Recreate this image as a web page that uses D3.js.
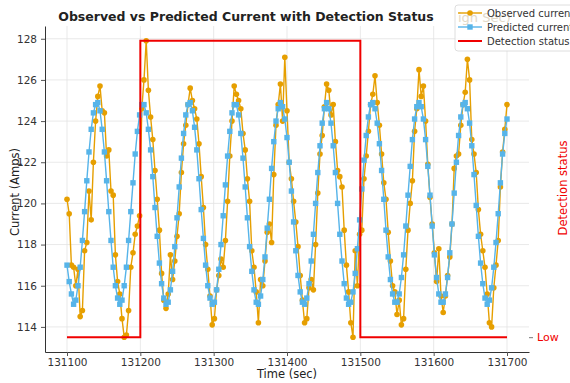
<!DOCTYPE html>
<html>
<head>
<meta charset="utf-8">
<script src="https://cdn.jsdelivr.net/npm/d3@7"></script>
<style>
  body { margin: 0; background: #fff; }
  svg { display: block; font-family: "DejaVu Sans", sans-serif; }
</style>
</head>
<body>
<div id="chart"></div>
<script>
// samples every 3 s from 131100 to 131700
var sampleTimes = d3.range(131100, 131701, 3)

var observed = [
  120.2, 119.5, 117.0, 116.9, 116.0, 116.8, 114.5, 114.8, 117.7, 118.1,
  120.6, 119.2, 122.0, 124.0, 125.2, 125.7, 124.5, 124.4, 122.3, 122.6,
  120.6, 120.4, 117.5, 116.2, 115.6, 114.4, 113.5, 113.6, 114.8, 116.9,
  117.6, 118.5, 118.9, 119.4, 124.6, 126.0, 127.9, 125.5, 124.2, 123.1,
  121.6, 120.2, 118.7, 116.6, 115.3, 114.9, 115.6, 117.5, 116.3, 117.2,
  118.4, 119.5, 121.5, 122.9, 123.8, 124.8, 125.6, 125.0, 124.6, 124.1,
  122.9, 121.3, 119.8, 118.0, 116.8, 115.5, 114.1, 114.4, 115.8, 116.5,
  117.3, 116.9, 118.2, 120.1, 122.3, 124.0, 125.7, 125.3, 125.0, 124.6,
  123.4, 122.6, 121.2, 120.1, 117.7, 116.9, 115.7, 114.2, 116.3, 116.0,
  117.2, 118.6, 119.0, 118.1, 121.4, 123.8, 124.8, 125.8, 124.0, 127.1,
  124.5, 122.0, 121.2, 120.1, 119.1, 117.9, 116.5, 115.3, 114.2, 114.4,
  115.9, 116.3, 115.8, 118.0, 120.5, 122.4, 123.3, 124.7, 125.8, 125.5,
  124.3, 124.8, 123.0, 121.6, 121.3, 120.8, 118.7, 117.0, 115.7, 114.2,
  113.5, 117.7, 116.0, 118.5, 118.7, 121.2, 122.3, 123.5, 124.8, 125.3,
  126.2, 124.9, 123.8, 122.4, 121.0, 120.2, 118.6, 117.2, 116.0, 115.7,
  114.6, 115.3, 114.1, 114.4, 116.8, 118.7, 120.0, 121.1, 123.5, 124.6,
  126.5, 125.2, 125.7, 124.0, 121.9, 120.3, 119.0, 117.6, 116.2, 117.8,
  115.5, 114.7, 115.5, 116.5, 117.4, 119.0, 121.7, 122.3, 122.4, 123.8,
  124.8, 125.4, 127.0, 126.0, 123.1, 122.4, 121.5, 119.7, 118.5, 117.7,
  116.9, 115.6, 114.2, 114.0, 115.9, 117.0, 118.2, 120.8, 122.5, 123.6,
  124.8
]

var predicted = [
  117.0, 116.2, 115.6, 115.1, 115.3, 116.0, 116.9, 118.2, 119.6, 121.1,
  122.5, 123.6, 124.4, 124.8, 124.9, 124.5, 123.6, 122.5, 121.1, 119.6,
  118.2, 116.9, 116.0, 115.4, 115.1, 115.3, 116.0, 116.9, 118.2, 119.6,
  121.0, 122.4, 123.5, 124.3, 124.8, 124.8, 124.4, 123.6, 122.6, 121.3,
  119.8, 118.4, 117.1, 116.1, 115.4, 115.1, 115.2, 115.8, 116.7, 117.9,
  119.3, 120.8, 122.2, 123.4, 124.3, 124.8, 124.9, 124.5, 123.7, 122.6,
  121.2, 119.7, 118.3, 117.0, 116.0, 115.4, 115.1, 115.2, 115.8, 116.8,
  118.0, 119.4, 120.9, 122.3, 123.5, 124.4, 124.8, 124.8, 124.3, 123.4,
  122.2, 120.8, 119.3, 117.9, 116.7, 115.8, 115.2, 115.1, 115.5, 116.3,
  117.4, 118.8, 120.2, 121.7, 123.0, 124.0, 124.6, 124.9, 124.7, 124.1,
  123.2, 122.0, 120.6, 119.1, 117.7, 116.5, 115.7, 115.2, 115.1, 115.4,
  116.1, 117.2, 118.5, 120.0, 121.5, 122.8, 123.9, 124.6, 124.9, 124.6,
  123.9, 122.8, 121.5, 120.0, 118.5, 117.2, 116.1, 115.4, 115.1, 115.2,
  115.7, 116.6, 117.8, 119.2, 120.7, 122.1, 123.3, 124.2, 124.8, 124.9,
  124.6, 123.9, 122.9, 121.6, 120.2, 118.7, 117.4, 116.3, 115.6, 115.2,
  115.2, 115.6, 116.4, 117.5, 118.9, 120.4, 121.8, 123.1, 124.1, 124.7,
  124.9, 124.7, 124.1, 123.1, 121.8, 120.4, 118.9, 117.5, 116.4, 115.6,
  115.2, 115.2, 115.6, 116.4, 117.6, 119.0, 120.5, 122.0, 123.3, 124.2,
  124.8, 124.9, 124.6, 123.9, 122.8, 121.4, 119.9, 118.4, 117.1, 116.1,
  115.4, 115.1, 115.3, 115.9, 116.9, 118.1, 119.5, 121.0, 122.4, 123.4,
  124.1
]

// detection status (0 = Low, 1 = High), step after each time
var statusTimes = [131100, 131200, 131500, 131700]
var statusValues = [0, 1, 0, 0]

var xTicks = [131100, 131200, 131300, 131400, 131500, 131600, 131700]
var yTicks = [114, 116, 118, 120, 122, 124, 126, 128]
var statusTicks = [0]
var statusTickLabels = ["Low"]

var width = 570
var height = 383

var obsColor = "#E69F00"
var predColor = "#56B4E9"
var statusColor = "#F00000"

var x = d3.scaleLinear().domain([131070, 131730]).range([45, 529])
var y = d3.scaleLinear().domain([112.78, 128.62]).range([352, 26])
var yStatus = d3.scaleLinear().domain([-0.05, 1.05]).range([352, 26])

var svg = d3.select("#chart").append("svg")
  .attr("width", width)
  .attr("height", height)

// grid
svg.append("g").selectAll("line").data(xTicks).enter().append("line")
  .attr("x1", function (d) { return x(d) }).attr("x2", function (d) { return x(d) })
  .attr("y1", 26).attr("y2", 352)
  .attr("stroke", "#e3e3e3").attr("stroke-width", 0.8)
svg.append("g").selectAll("line").data(yTicks).enter().append("line")
  .attr("x1", 45).attr("x2", 529)
  .attr("y1", function (d) { return y(d) }).attr("y2", function (d) { return y(d) })
  .attr("stroke", "#e3e3e3").attr("stroke-width", 0.8)

// axes
var xAxis = svg.append("g")
  .attr("transform", "translate(0,352)")
  .call(d3.axisBottom(x).tickValues(xTicks).tickSize(4).tickSizeOuter(0).tickPadding(3).tickFormat(d3.format("d")))
var yAxis = svg.append("g")
  .attr("transform", "translate(45,0)")
  .call(d3.axisLeft(y).tickValues(yTicks).tickSize(4).tickSizeOuter(0).tickPadding(4))

;[xAxis, yAxis].forEach(function (g) {
  g.select(".domain").attr("stroke", "#333").attr("stroke-width", 1)
  g.selectAll(".tick line").attr("stroke", "#555")
  g.selectAll(".tick text").attr("fill", "#333").attr("font-size", 10.5)
    .attr("font-family", "DejaVu Sans, sans-serif")
})

// series
var seriesData = sampleTimes.map(function (t, i) {
  return { t: t, obs: observed[i], pred: predicted[i] }
})

var obsLine = d3.line().x(function (d) { return x(d.t) }).y(function (d) { return y(d.obs) })
var predLine = d3.line().x(function (d) { return x(d.t) }).y(function (d) { return y(d.pred) })

svg.append("path").datum(seriesData)
  .attr("d", obsLine).attr("fill", "none")
  .attr("stroke", obsColor).attr("stroke-width", 1.4)
svg.append("g").selectAll("circle").data(seriesData).enter().append("circle")
  .attr("cx", function (d) { return x(d.t) })
  .attr("cy", function (d) { return y(d.obs) })
  .attr("r", 2.8)
  .attr("fill", obsColor)

svg.append("path").datum(seriesData)
  .attr("d", predLine).attr("fill", "none")
  .attr("stroke", predColor).attr("stroke-width", 1.4)
svg.append("g").selectAll("rect").data(seriesData).enter().append("rect")
  .attr("x", function (d) { return x(d.t) - 2.7 })
  .attr("y", function (d) { return y(d.pred) - 2.7 })
  .attr("width", 5.4).attr("height", 5.4)
  .attr("fill", predColor)

// detection status on twin axis
var statusData = statusTimes.map(function (t, i) { return { t: t, v: statusValues[i] } })
svg.append("path").datum(statusData)
  .attr("d", d3.line().curve(d3.curveStepAfter)
    .x(function (d) { return x(d.t) })
    .y(function (d) { return yStatus(d.v) }))
  .attr("fill", "none")
  .attr("stroke", statusColor).attr("stroke-width", 2)

var rightAxis = svg.append("g")
  .attr("transform", "translate(529,0)")
  .call(d3.axisRight(yStatus).tickValues(statusTicks).tickSize(4).tickPadding(4)
    .tickFormat(function (d, i) { return statusTickLabels[i] }))
rightAxis.select(".domain").remove()
rightAxis.selectAll(".tick line").attr("stroke", "#777")
rightAxis.selectAll(".tick text").attr("fill", statusColor).attr("font-size", 11)
  .attr("font-family", "DejaVu Sans, sans-serif")

// titles and axis labels
svg.append("text")
  .attr("x", 246).attr("y", 21)
  .attr("text-anchor", "middle")
  .attr("font-size", 12.5).attr("font-weight", "bold").attr("fill", "#222")
  .text("Observed vs Predicted Current with Detection Status")

svg.append("text")
  .attr("x", 287).attr("y", 378)
  .attr("text-anchor", "middle")
  .attr("font-size", 11.5).attr("fill", "#222")
  .text("Time (sec)")

svg.append("text")
  .attr("transform", "translate(19,192) rotate(-90)")
  .attr("text-anchor", "middle")
  .attr("font-size", 11.5).attr("fill", "#222")
  .text("Current (Amps)")

svg.append("text")
  .attr("transform", "translate(567,188) rotate(-90)")
  .attr("text-anchor", "middle")
  .attr("font-size", 11.5).attr("fill", statusColor)
  .text("Detection status")

// legend
var legend = svg.append("g").attr("transform", "translate(455,5)")
legend.append("rect")
  .attr("x", 0).attr("y", 0).attr("width", 130).attr("height", 46)
  .attr("rx", 3)
  .attr("fill", "#fff").attr("fill-opacity", 0.85)
  .attr("stroke", "#d6d6d6").attr("stroke-width", 0.8)

legend.append("text")
  .attr("x", 3).attr("y", 17)
  .attr("font-size", 13).attr("fill", "#e2d9c8")
  .text("igh Sec)")

var legendItems = [
  { label: "Observed current", color: obsColor, marker: "circle", w: 1.4 },
  { label: "Predicted current", color: predColor, marker: "square", w: 1.4 },
  { label: "Detection status", color: statusColor, marker: null, w: 2 }
]
legendItems.forEach(function (item, i) {
  var row = legend.append("g").attr("transform", "translate(0," + (8 + i * 14) + ")")
  row.append("line")
    .attr("x1", 3).attr("x2", 27).attr("y1", 0).attr("y2", 0)
    .attr("stroke", item.color).attr("stroke-width", item.w)
  if (item.marker == "circle") {
    row.append("circle").attr("cx", 15).attr("cy", 0).attr("r", 2.8).attr("fill", item.color)
  } else if (item.marker == "square") {
    row.append("rect").attr("x", 12.3).attr("y", -2.7).attr("width", 5.4).attr("height", 5.4).attr("fill", item.color)
  }
  row.append("text")
    .attr("x", 32).attr("y", 3.5)
    .attr("font-size", 10).attr("fill", "#333")
    .text(item.label)
})
</script>
</body>
</html>
